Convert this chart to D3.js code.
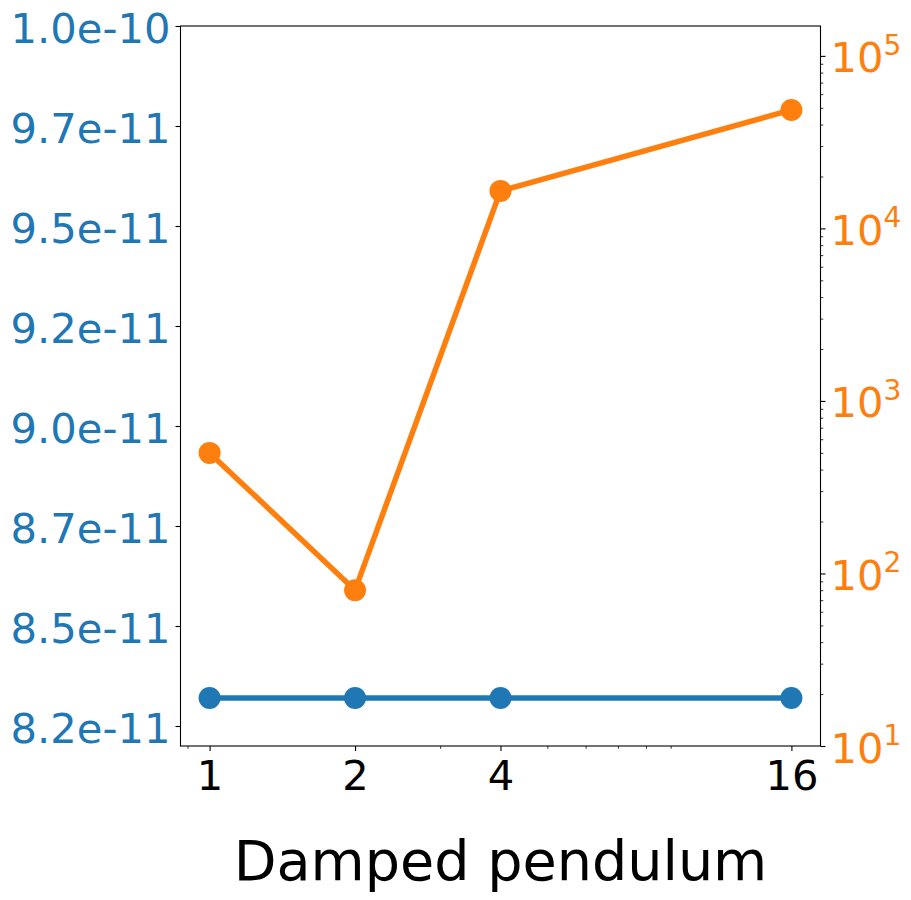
<!DOCTYPE html>
<html>
<head>
<meta charset="utf-8">
<script src="https://cdn.jsdelivr.net/npm/d3@7"></script>
<style>
  body { margin: 0; background: #fff; }
  svg { display: block; font-family: "DejaVu Sans", sans-serif; }
</style>
</head>
<body>
<svg id="chart" width="911" height="900"></svg>
<script>
// ---- data ----
const xValues = [1, 2, 4, 16];
const xTickLabels = ["1", "2", "4", "16"];
const xMinorTicks = [0.9, 3, 5, 6, 7, 8, 9];
const blueValues = [8.32e-11, 8.32e-11, 8.32e-11, 8.32e-11];
const orangeValues = [500, 80, 16500, 48600];
const leftTicks = [8.25e-11, 8.5e-11, 8.75e-11, 9.0e-11, 9.25e-11, 9.5e-11, 9.75e-11, 1.0e-10];
const leftTickLabels = ["8.2e-11", "8.5e-11", "8.7e-11", "9.0e-11", "9.2e-11", "9.5e-11", "9.7e-11", "1.0e-10"];
const rightTicks = [1e1, 1e2, 1e3, 1e4, 1e5];
const rightTickExponents = ["1", "2", "3", "4", "5"];
const xLabel = "Damped pendulum";

// ---- layout ----
const L = 180.5, R = 820.5, T = 26, B = 746;
const blue = "#1f77b4", orange = "#ff7f0e";
const tickFont = 41.67;

const svg = d3.select("#chart");

const x = d3.scaleLog().base(2).domain([Math.pow(2, -0.2), Math.pow(2, 4.2)]).range([L, R]);
const yL = d3.scaleLinear().domain([8.2e-11, 1.0e-10]).range([B, T]);
const yR = d3.scaleLog().domain([10, 149000]).range([B, T]);

// right minor ticks
const rightMinor = [];
for (let e = 1; e <= 5; e++) {
  for (let m = 2; m <= 9; m++) {
    const v = m * Math.pow(10, e);
    if (v < yR.domain()[1]) rightMinor.push(v);
  }
}

// ---- axes ----
// bottom major
const gx = svg.append("g").attr("transform", `translate(0,${B})`)
  .call(d3.axisBottom(x).tickValues(xValues).tickFormat((d, i) => xTickLabels[i]).tickSize(5).tickPadding(5));
gx.select(".domain").remove();
gx.selectAll("text").attr("font-size", tickFont).attr("font-family", "DejaVu Sans").attr("fill", "#000").attr("dy", null).attr("y", 44);
gx.selectAll("line").attr("stroke", "#000").attr("stroke-width", 1.1);
// bottom minor
const gxm = svg.append("g").attr("transform", `translate(0,${B})`)
  .call(d3.axisBottom(x).tickValues(xMinorTicks).tickFormat("").tickSize(2.8));
gxm.select(".domain").remove();
gxm.selectAll("line").attr("stroke", "#000").attr("stroke-width", 0.8);

// left axis
const gl = svg.append("g").attr("transform", `translate(${L},0)`)
  .call(d3.axisLeft(yL).tickValues(leftTicks).tickFormat((d, i) => leftTickLabels[i]).tickSize(5).tickPadding(5));
gl.select(".domain").remove();
gl.selectAll("line").attr("stroke", "#000").attr("stroke-width", 1.1);
gl.selectAll("text").attr("font-size", tickFont).attr("font-family", "DejaVu Sans").attr("fill", blue).attr("dy", null).attr("y", 16);

// right axis major
const gr = svg.append("g").attr("transform", `translate(${R},0)`)
  .call(d3.axisRight(yR).tickValues(rightTicks).tickFormat("").tickSize(5));
gr.select(".domain").remove();
gr.selectAll("line").attr("stroke", "#000").attr("stroke-width", 1.1);
gr.selectAll(".tick").each(function (d, i) {
  const t = d3.select(this).select("text")
    .attr("x", 10).attr("y", 16).attr("dy", null)
    .attr("text-anchor", "start")
    .attr("font-family", "DejaVu Sans")
    .attr("fill", orange).attr("font-size", tickFont);
  t.text(null);
  t.append("tspan").text("10");
  t.append("tspan").attr("dy", -17.5).attr("font-size", 28).text(rightTickExponents[i]);
});
// right minor
const grm = svg.append("g").attr("transform", `translate(${R},0)`)
  .call(d3.axisRight(yR).tickValues(rightMinor).tickFormat("").tickSize(2.8));
grm.select(".domain").remove();
grm.selectAll("line").attr("stroke", "#000").attr("stroke-width", 0.8);

// frame
svg.append("rect").attr("x", L).attr("y", T).attr("width", R - L).attr("height", B - T)
  .attr("fill", "none").attr("stroke", "#000").attr("stroke-width", 1.1);

// ---- series ----
const blueLine = d3.line().x((d, i) => x(xValues[i])).y(d => yL(d));
svg.append("path").datum(blueValues).attr("d", blueLine)
  .attr("fill", "none").attr("stroke", blue).attr("stroke-width", 5.5);
svg.append("g").selectAll("circle").data(blueValues).join("circle")
  .attr("cx", (d, i) => x(xValues[i])).attr("cy", d => yL(d)).attr("r", 11).attr("fill", blue);

const orangeLine = d3.line().x((d, i) => x(xValues[i])).y(d => yR(d));
svg.append("path").datum(orangeValues).attr("d", orangeLine)
  .attr("fill", "none").attr("stroke", orange).attr("stroke-width", 5.5);
svg.append("g").selectAll("circle").data(orangeValues).join("circle")
  .attr("cx", (d, i) => x(xValues[i])).attr("cy", d => yR(d)).attr("r", 11).attr("fill", orange);

// x label
svg.append("text").attr("x", (L + R) / 2).attr("y", 880)
  .attr("text-anchor", "middle").attr("font-size", 55.6).attr("font-family", "DejaVu Sans")
  .attr("fill", "#000").text(xLabel);
</script>
</body>
</html>
